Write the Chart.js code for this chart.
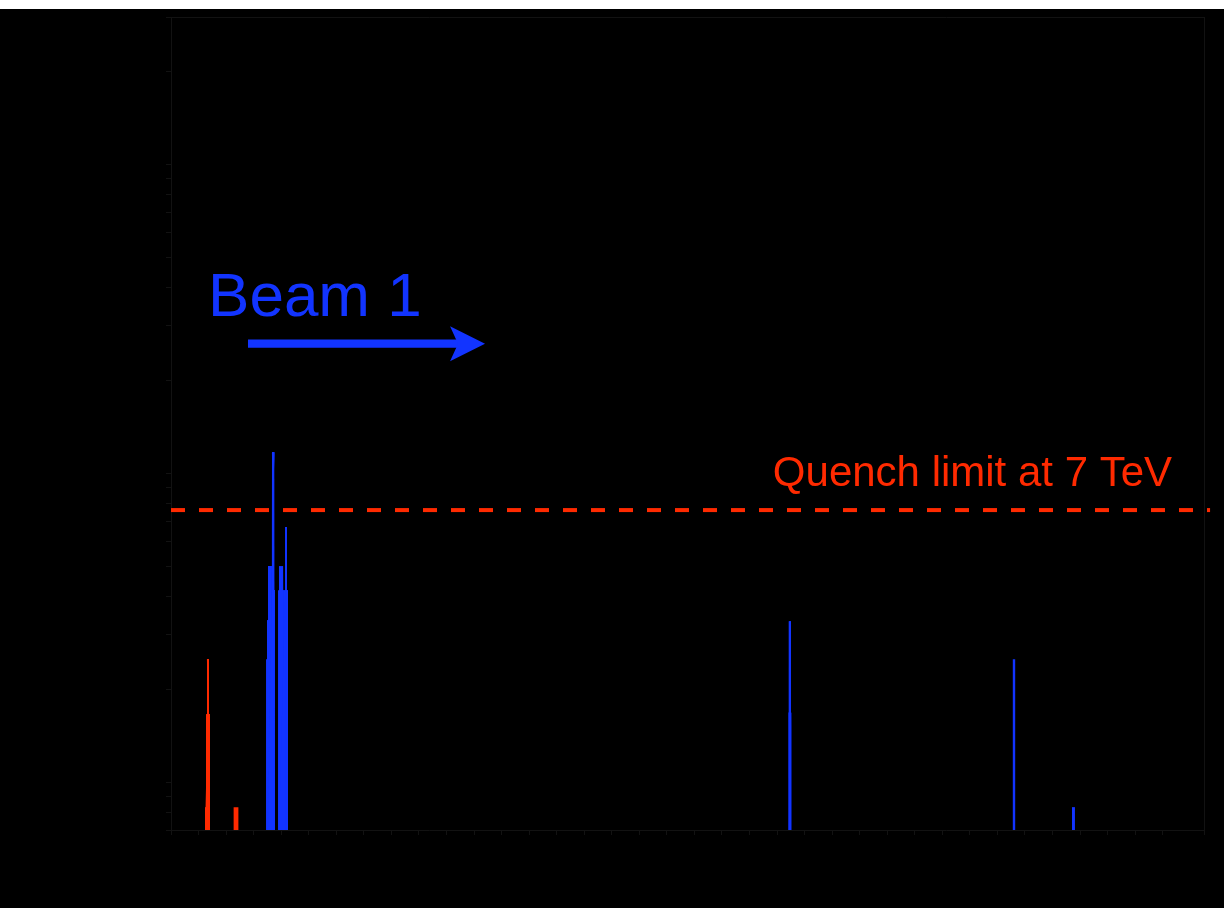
<!DOCTYPE html>
<html>
<head>
<meta charset="utf-8">
<title>Beam 1 loss map</title>
<script src="https://cdn.jsdelivr.net/npm/chart.js@4.4.1/dist/chart.umd.min.js"></script>
<style>
  html, body { margin: 0; padding: 0; background: #fff; }
  #wrap { position: absolute; top: 9px; left: 0; width: 1224px; height: 899px; background: #000; }
</style>
</head>
<body>
<div id="wrap">
  <canvas id="lossMap" width="1224" height="899"></canvas>
</div>
<script>
// s range of the plotted section [m] and loss axis range
const sMin = 0;
const sMax = 750;
const lossMin = 3.5e-6;
const lossMax = 1.5e-3;

// log axis tick values
const lossTicks = [
  3.5e-6, 4e-6, 4.5e-6, 5e-6,
  1e-5, 1.5e-5, 2e-5, 2.5e-5, 3e-5, 3.5e-5, 4e-5, 4.5e-5, 5e-5,
  1e-4, 1.5e-4, 2e-4, 2.5e-4, 3e-4, 3.5e-4, 4e-4, 4.5e-4, 5e-4,
  1e-3, 1.5e-3
];

// warm elements: start s, end s, loss
const warmStart = [26.1, 25.4, 24.7, 45.3];
const warmEnd   = [27.6, 28.3, 28.3, 49.1];
const warmLoss  = [1.25e-5, 8.3e-6, 4.15e-6, 4.15e-6];

// cold elements: start s, end s, loss
const coldStart = [69.0, 69.7, 70.4, 70.4, 73.3, 77.7, 78.4, 82.8, 448.2, 448.4, 611.0, 654.1];
const coldEnd   = [75.5, 75.5, 75.5, 73.3, 75.0, 85.0, 81.5, 84.2, 450.4, 450.2, 613.1, 656.3];
const coldLoss  = [1.25e-5, 1.67e-5, 2.09e-5, 2.5e-5, 5.85e-5, 2.09e-5, 2.5e-5, 3.35e-5, 8.4e-6, 1.66e-5, 1.25e-5, 4.15e-6];

// quench limit and where its dashed line stops
const quenchLimit = 3.8e-5;
const quenchEnd = 754.4;
const quenchLabel = 'Quench limit at 7 TeV';
const quenchLabelS = 726.8;

// beam direction label and arrow
const beamLabel = 'Beam 1';
const beamLabelS = 26.9;
const beamLabelLoss = 1.62e-4;
const arrowFromS = 55.9;
const arrowToS = 228.0;
const arrowLoss = 1.314e-4;

const RED = '#ff2a00';
const BLUE = '#1234ff';
const FRAME = '#121212';

// each element becomes a flat segment, filled down to the axis; null breaks between elements
function elementPoints(starts, ends, losses) {
  const pts = [];
  starts.forEach((s, i) => {
    pts.push({ x: s, y: losses[i] }, { x: ends[i], y: losses[i] }, { x: ends[i], y: null });
  });
  return pts;
}

const annotations = {
  id: 'annotations',
  afterDatasetsDraw(chart) {
    const { ctx, scales: { x, y } } = chart;
    ctx.save();

    ctx.fillStyle = RED;
    ctx.font = '42px "Liberation Sans", Arial, Helvetica, sans-serif';
    ctx.textAlign = 'right';
    ctx.textBaseline = 'alphabetic';
    ctx.fillText(quenchLabel, x.getPixelForValue(quenchLabelS), y.getPixelForValue(quenchLimit) - 24);

    ctx.fillStyle = BLUE;
    ctx.font = '62px "Liberation Sans", Arial, Helvetica, sans-serif';
    ctx.textAlign = 'left';
    ctx.fillText(beamLabel, x.getPixelForValue(beamLabelS), y.getPixelForValue(beamLabelLoss));

    // arrow: shaft then notched head
    const x0 = x.getPixelForValue(arrowFromS);
    const x1 = x.getPixelForValue(arrowToS);
    const ya = y.getPixelForValue(arrowLoss);
    ctx.strokeStyle = BLUE;
    ctx.lineWidth = 8.4;
    ctx.beginPath();
    ctx.moveTo(x0, ya);
    ctx.lineTo(x1 - 26, ya);
    ctx.stroke();
    ctx.beginPath();
    ctx.moveTo(x1, ya);
    ctx.lineTo(x1 - 35, ya - 17.5);
    ctx.lineTo(x1 - 27, ya);
    ctx.lineTo(x1 - 35, ya + 17.5);
    ctx.closePath();
    ctx.fill();

    ctx.restore();
  }
};

const frameAxis = (position, horizontal) => ({
  type: horizontal ? 'linear' : 'logarithmic',
  position,
  display: true,
  min: horizontal ? sMin : lossMin,
  max: horizontal ? sMax : lossMax,
  grid: { display: false },
  ticks: { display: false },
  border: { color: FRAME, width: 1 },
  afterFit(scale) {
    if (horizontal) scale.height = 0; else scale.width = 0;
  }
});

new Chart(document.getElementById('lossMap').getContext('2d'), {
  type: 'line',
  data: {
    datasets: [
      {
        label: 'Warm',
        data: elementPoints(warmStart, warmEnd, warmLoss),
        backgroundColor: RED,
        borderColor: 'rgba(0,0,0,0)',
        borderWidth: 0,
        fill: 'start',
        pointRadius: 0,
        spanGaps: false,
        tension: 0
      },
      {
        label: 'Cold',
        data: elementPoints(coldStart, coldEnd, coldLoss),
        backgroundColor: BLUE,
        borderColor: 'rgba(0,0,0,0)',
        borderWidth: 0,
        fill: 'start',
        pointRadius: 0,
        spanGaps: false,
        tension: 0
      },
      {
        label: quenchLabel,
        data: [{ x: sMin, y: quenchLimit }, { x: quenchEnd, y: quenchLimit }],
        borderColor: RED,
        borderWidth: 4,
        borderDash: [14, 14],
        borderCapStyle: 'butt',
        fill: false,
        pointRadius: 0,
        clip: false
      }
    ]
  },
  options: {
    responsive: false,
    animation: false,
    events: [],
    layout: { padding: { left: 166, top: 8, right: 20, bottom: 73 } },
    plugins: {
      legend: { display: false },
      tooltip: { enabled: false }
    },
    scales: {
      x: {
        type: 'linear',
        position: 'bottom',
        min: sMin,
        max: sMax,
        grid: { drawOnChartArea: false, color: FRAME, tickLength: 5 },
        border: { color: FRAME, width: 1 },
        ticks: { display: false, stepSize: 20 },
        afterFit(scale) { scale.height = 5; }
      },
      y: {
        type: 'logarithmic',
        position: 'left',
        min: lossMin,
        max: lossMax,
        grid: { drawOnChartArea: false, color: FRAME, tickLength: 5 },
        border: { color: FRAME, width: 1 },
        ticks: { display: false },
        afterBuildTicks(scale) {
          scale.ticks = lossTicks.map(value => ({ value }));
        },
        afterFit(scale) { scale.width = 5; }
      },
      xTop: frameAxis('top', true),
      yRight: frameAxis('right', false)
    }
  },
  plugins: [annotations]
});
</script>
</body>
</html>
